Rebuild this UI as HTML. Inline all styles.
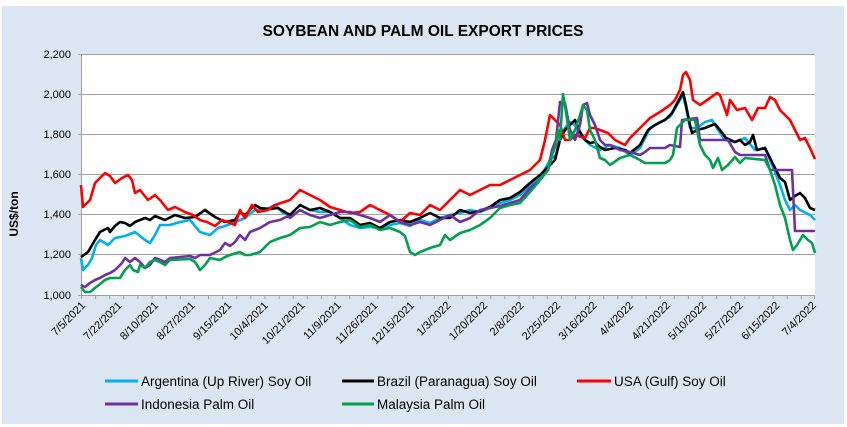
<!DOCTYPE html>
<html><head><meta charset="utf-8"><style>
html,body{margin:0;padding:0;background:#fff;}
svg{display:block;font-family:"Liberation Sans",sans-serif;}
</style></head><body>
<svg width="847" height="427" viewBox="0 0 847 427" xmlns="http://www.w3.org/2000/svg">
<rect x="2" y="6" width="842" height="418" fill="#dce6f2"/>
<rect x="81" y="54" width="734" height="241" fill="#fff"/>
<text x="423" y="36" text-anchor="middle" font-size="15.5" font-weight="bold" fill="#000">SOYBEAN AND PALM OIL EXPORT PRICES</text>
<g stroke="#a0a0a0" stroke-width="1">
<line x1="78" y1="54.5" x2="815" y2="54.5"/>
<line x1="78" y1="94.5" x2="815" y2="94.5"/>
<line x1="78" y1="134.5" x2="815" y2="134.5"/>
<line x1="78" y1="174.5" x2="815" y2="174.5"/>
<line x1="78" y1="214.5" x2="815" y2="214.5"/>
<line x1="78" y1="254.5" x2="815" y2="254.5"/>
<line x1="78" y1="295.5" x2="815" y2="295.5"/>
<line x1="81.5" y1="54" x2="81.5" y2="295"/>
</g>
<g font-size="11" fill="#000" text-anchor="end">
<text x="71" y="58">2,200</text><text x="71" y="98">2,000</text><text x="71" y="138">1,800</text>
<text x="71" y="178">1,600</text><text x="71" y="218">1,400</text><text x="71" y="258">1,200</text><text x="71" y="299">1,000</text>
</g>
<text transform="translate(18,214) rotate(-90)" text-anchor="middle" font-size="12" font-weight="bold">US$/ton</text>
<path stroke="#a0a0a0" stroke-width="1" fill="none" d="M81.5 295v4M95.6 295v4M109.7 295v4M123.8 295v4M137.9 295v4M152.1 295v4M166.2 295v4M180.3 295v4M194.4 295v4M208.5 295v4M222.7 295v4M236.8 295v4M250.9 295v4M265 295v4M279.1 295v4M293.2 295v4M307.3 295v4M321.4 295v4M335.5 295v4M349.7 295v4M363.8 295v4M377.9 295v4M392 295v4M406.1 295v4M420.2 295v4M434.3 295v4M448.5 295v4M462.6 295v4M476.7 295v4M490.8 295v4M504.9 295v4M519 295v4M533.1 295v4M547.3 295v4M561.4 295v4M575.5 295v4M589.6 295v4M603.7 295v4M617.8 295v4M631.9 295v4M646.1 295v4M660.2 295v4M674.3 295v4M688.4 295v4M702.5 295v4M716.6 295v4M730.7 295v4M744.9 295v4M759 295v4M773.1 295v4M787.2 295v4M801.3 295v4M814.5 295v4"/>
<g font-size="11" fill="#000" text-anchor="end">
<text transform="translate(86,306) rotate(-45)">7/5/2021</text>
<text transform="translate(122.5,306) rotate(-45)">7/22/2021</text>
<text transform="translate(159,306) rotate(-45)">8/10/2021</text>
<text transform="translate(195.6,306) rotate(-45)">8/27/2021</text>
<text transform="translate(232.1,306) rotate(-45)">9/15/2021</text>
<text transform="translate(268.7,306) rotate(-45)">10/4/2021</text>
<text transform="translate(305.2,306) rotate(-45)">10/21/2021</text>
<text transform="translate(341.7,306) rotate(-45)">11/9/2021</text>
<text transform="translate(378.3,306) rotate(-45)">11/26/2021</text>
<text transform="translate(414.8,306) rotate(-45)">12/15/2021</text>
<text transform="translate(451.3,306) rotate(-45)">1/3/2022</text>
<text transform="translate(487.9,306) rotate(-45)">1/20/2022</text>
<text transform="translate(524.4,306) rotate(-45)">2/8/2022</text>
<text transform="translate(561,306) rotate(-45)">2/25/2022</text>
<text transform="translate(597.5,306) rotate(-45)">3/16/2022</text>
<text transform="translate(634,306) rotate(-45)">4/4/2022</text>
<text transform="translate(670.6,306) rotate(-45)">4/21/2022</text>
<text transform="translate(707.1,306) rotate(-45)">5/10/2022</text>
<text transform="translate(743.7,306) rotate(-45)">5/27/2022</text>
<text transform="translate(780.2,306) rotate(-45)">6/15/2022</text>
<text transform="translate(816.7,306) rotate(-45)">7/4/2022</text>
</g>
<g fill="none" stroke-width="2.6" stroke-linejoin="round">
<polyline stroke="#00b0f0" points="81,258 83,270 88,265 92,258 96,245 100,240 108,245 115,238 125,236 135,232 145,240 150,243 155,235 160,225 170,225 180,222 190,220 200,232 210,235 218,228 225,226 235,222 245,218 255,210 265,210 275,205 283,213 290,215 300,205 310,210 320,212 330,212 340,218 350,225 360,228 370,227 380,228 390,225 400,223 410,226 420,220 430,223 440,218 450,215 460,213 470,210 480,212 490,208 500,203 510,200 520,195 530,185 540,178 550,160 556,155 560,138 565,128 570,122 575,125 580,135 590,145 600,150 610,145 620,148 630,155 640,148 650,128 660,122 670,117 680,100 683,95 686,108 690,128 697,128 705,122 712,120 718,130 725,140 735,142 745,138 755,150 765,148 775,172 780,185 785,200 790,210 795,205 800,210 810,215 815,220"/>
<polyline stroke="#000" points="81,257 88,252 95,240 100,232 104,230 108,228 110,232 115,226 120,222 125,223 130,226 135,222 145,218 150,220 155,216 165,220 175,215 185,218 195,217 205,210 215,217 225,222 235,220 240,212 245,215 255,205 260,208 270,209 278,208 290,215 300,205 310,210 320,208 330,212 340,218 350,218 360,225 370,223 380,228 390,222 400,220 410,222 420,218 430,213 440,218 450,218 460,210 470,213 480,211 490,207 500,200 510,198 520,192 530,183 540,175 550,165 555,160 560,140 565,130 570,125 575,120 580,132 585,140 590,143 595,142 600,147 605,150 615,148 625,150 630,153 640,145 648,130 655,125 665,120 672,113 680,98 683,92 686,105 690,125 692,133 697,130 705,128 715,124 720,130 726,138 735,142 740,140 745,145 750,142 753,135 757,150 765,148 775,168 780,178 785,182 790,200 795,196 800,193 805,198 810,208 815,210"/>
<polyline stroke="#ff0000" points="81,185 83,207 90,200 95,183 105,173 110,176 115,183 122,178 128,175 132,180 135,193 140,190 148,200 155,195 160,200 168,210 175,207 185,212 193,215 200,220 207,222 215,226 222,220 228,222 235,225 240,210 245,218 252,205 258,212 268,210 275,205 290,200 300,190 310,195 320,200 330,207 340,210 350,213 360,212 370,205 380,210 390,215 400,222 410,213 420,215 430,205 440,210 450,200 460,190 470,195 480,190 490,185 500,185 510,180 520,175 530,170 540,160 545,140 550,115 555,120 560,125 565,140 570,140 575,135 585,138 590,128 595,128 600,130 608,133 615,140 625,145 630,138 640,128 650,118 660,112 670,105 675,100 680,90 683,75 686,72 690,80 693,100 700,105 710,98 717,93 720,95 727,115 730,100 737,110 745,108 752,120 758,108 765,108 770,97 775,100 780,110 790,120 795,130 800,140 805,138 810,148 815,159"/>
<polyline stroke="#7030a0" points="81,285 85,287 90,283 95,280 100,278 105,275 110,273 115,270 122,263 125,258 130,262 135,258 140,262 145,268 150,265 155,258 165,262 170,258 180,257 190,256 195,258 200,255 210,255 220,250 225,243 230,246 235,242 240,235 245,240 250,232 255,230 260,228 270,222 280,220 288,216 290,218 300,210 310,215 320,218 330,215 340,212 350,212 360,215 370,218 380,222 390,215 400,222 410,225 420,222 430,225 440,220 450,215 460,222 470,218 480,210 490,208 500,206 510,203 520,200 530,188 540,180 548,170 552,150 556,140 560,102 565,103 570,130 575,140 580,125 583,105 587,103 590,115 595,125 600,140 605,145 610,145 620,150 630,152 640,155 645,152 650,148 665,148 670,145 680,147 682,120 697,118 700,140 728,140 735,152 740,155 765,155 770,170 792,170 795,231 815,231"/>
<polyline stroke="#00a050" points="81,287 85,292 90,292 95,288 100,284 105,280 110,278 120,278 125,270 130,265 133,270 138,272 140,265 145,268 150,262 155,260 160,262 165,265 170,260 190,259 195,262 200,270 205,265 210,258 220,260 225,257 230,255 240,252 245,255 250,255 260,252 270,242 280,238 290,235 300,228 310,227 320,222 330,225 340,222 350,220 360,227 370,225 380,230 390,228 400,232 405,236 410,252 415,255 420,252 430,248 440,245 445,235 450,240 460,233 470,230 480,225 490,218 500,208 510,205 520,203 530,192 540,180 548,170 552,155 556,145 558,130 560,140 563,94 566,112 570,140 575,130 580,115 583,105 587,110 590,130 595,140 600,158 605,160 610,165 620,158 630,155 640,160 645,163 665,163 670,160 673,155 677,128 685,120 695,120 700,145 705,155 710,160 713,168 718,158 722,170 728,165 735,157 740,163 745,158 765,160 770,170 775,185 780,205 785,218 790,240 793,250 797,245 803,235 808,240 812,243 815,253"/>
</g>
<g stroke-width="3">
<line x1="105" y1="381" x2="138" y2="381" stroke="#00b0f0"/>
<line x1="342" y1="381" x2="374" y2="381" stroke="#000"/>
<line x1="577" y1="381" x2="611" y2="381" stroke="#ff0000"/>
<line x1="105" y1="404" x2="138" y2="404" stroke="#7030a0"/>
<line x1="342" y1="404" x2="374" y2="404" stroke="#00a050"/>
</g>
<g font-size="13.5" fill="#000">
<text x="141" y="386">Argentina (Up River) Soy Oil</text>
<text x="377" y="386">Brazil (Paranagua) Soy Oil</text>
<text x="614" y="386">USA (Gulf) Soy Oil</text>
<text x="141" y="409">Indonesia Palm Oil</text>
<text x="377" y="409">Malaysia Palm Oil</text>
</g>
</svg>
</body></html>
